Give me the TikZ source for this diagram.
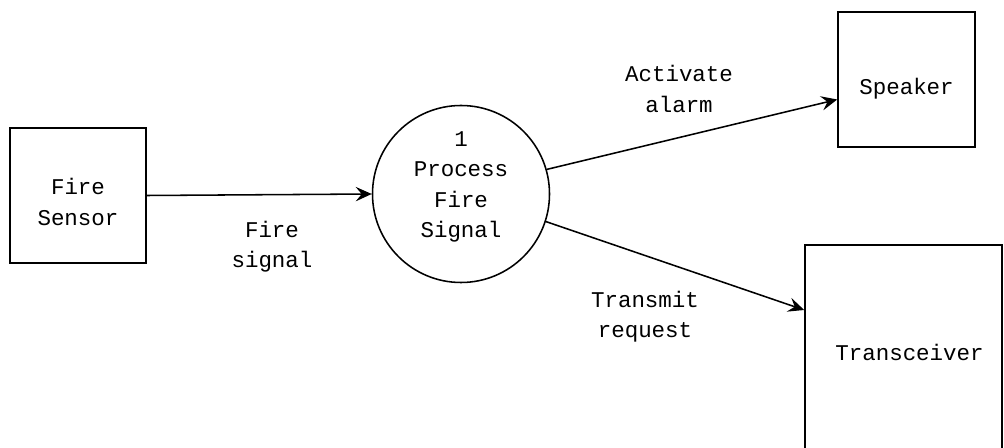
\documentclass[tikz,border=0pt]{standalone}
\usepackage{fontspec}
\setmonofont{Liberation Mono}
\usetikzlibrary{arrows.meta}

\tikzset{
  dfd/.style={line width=1.1pt},
  ent/.style={draw, dfd, inner sep=0pt},
  proc/.style={draw, dfd, circle, inner sep=0pt, minimum size=44.25mm},
  lbl/.style={align=center},
  flow/.style={dfd, -{Stealth[length=4mm, width=3.6mm, inset=1.5mm]}}
}

\begin{document}
\begin{tikzpicture}[x=0.25mm, y=-0.25mm,
    every node/.style={font=\ttfamily\fontsize{16}{21.5}\selectfont}]
    \clip (0,0) rectangle (1004,448);
    \fill[white] (0,0) rectangle (1004,448);
    % external entities and the process
    \node[ent, minimum width=34mm, minimum height=33.75mm] (sensor) at (78,195.5) {};
    \node[proc] (fireproc) at (461,194) {};
    \node[ent, minimum width=34.25mm, minimum height=33.75mm] (spk) at (906.5,79.5) {};
    \node[ent, minimum width=49.25mm, minimum height=53.5mm] (xcv) at (903.5,352) {};
    \node[lbl] (sensortxt) at ([yshift=-1.6mm]sensor.center) {Fire\\Sensor};
    \node[lbl] (proctxt) at ([yshift=1.75mm]fireproc.center) {1\\Process\\Fire\\Signal};
    \node[lbl] (spktxt) at ([yshift=-2.2mm]spk.center) {Speaker};
    \node[lbl] (xcvtxt) at ([xshift=1.5mm]xcv.center) {Transceiver};
    % data flows
    \draw[flow] (sensor.east) -- (fireproc.west);
    \draw[flow] (fireproc.16) -- ([yshift=-5mm]spk.west);
    \draw[flow] (fireproc.-18) -- ([yshift=10.5mm]xcv.west);
    \node[lbl] (sigtxt) at (272,247) {Fire\\signal};
    \node[lbl] (alarmtxt) at (679,89) {Activate\\alarm};
    \node[lbl] (reqtxt) at (645,317) {Transmit\\request};
\end{tikzpicture}
\end{document}
